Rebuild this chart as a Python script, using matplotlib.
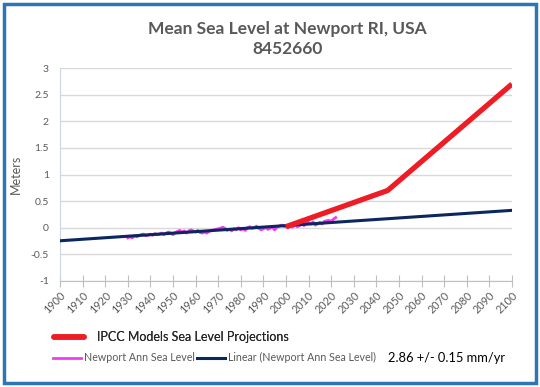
import numpy as np
import matplotlib.pyplot as plt
from matplotlib.lines import Line2D
from matplotlib.patches import Rectangle

plt.rcParams['font.family'] = ['Lato', 'DejaVu Sans']

# annual mean sea level at Newport (m)
years = np.arange(1930, 2023)
msl = [-0.19, -0.17, -0.19, -0.15, -0.17, -0.15, -0.13, -0.12, -0.15, -0.14,
       -0.12, -0.14, -0.11, -0.13, -0.12, -0.10, -0.13, -0.10, -0.08, -0.10,
       -0.13, -0.09, -0.07, -0.05, -0.08, -0.06, -0.10, -0.06, -0.04, -0.06,
       -0.08, -0.05, -0.09, -0.10, -0.08, -0.10, -0.07, -0.05, -0.04, -0.03,
       -0.02, -0.01, 0.01, -0.01, -0.05, -0.03, -0.06, -0.02, -0.04, -0.00,
       -0.04, -0.02, -0.05, 0.00, 0.02, -0.01, 0.00, 0.03, -0.01, -0.04,
       -0.02, 0.01, -0.03, -0.01, 0.01, -0.04, 0.01, 0.03, 0.05, 0.03,
       0.02, 0.00, 0.03, 0.01, 0.06, 0.02, 0.04, 0.07, 0.04, 0.09,
       0.10, 0.07, 0.11, 0.05, 0.07, 0.10, 0.07, 0.12, 0.13, 0.14,
       0.12, 0.16, 0.19]

# linear trend (2.86 mm/yr)
trend_years = [1900, 2100]
trend_vals = [-0.245, 0.327]

# IPCC projection
ipcc_years = [2000, 2045, 2100]
ipcc_vals = [0.02, 0.70, 2.70]

grey = '#595959'

fig = plt.figure(figsize=(5.4, 3.87), dpi=100)
ax = fig.add_axes([0.111, 0.274, 0.837, 0.55])

ax.plot(years, msl, color='#F03CF0', lw=2, zorder=2)
ax.plot(trend_years, trend_vals, color='#0C2660', lw=2.2, zorder=3)
ax.plot(ipcc_years, ipcc_vals, color='#EE1C25', lw=3.8, zorder=4,
        solid_capstyle='butt')

ax.set_xlim(1900, 2100)
ax.set_ylim(-1, 3)
ax.set_xticks(np.arange(1900, 2101, 10))
ax.set_yticks(np.arange(-1, 3.01, 0.5))
ax.set_yticklabels(['-1', '-0.5', '0', '0.5', '1', '1.5', '2', '2.5', '3'])
ax.grid(axis='y', color='#D9D9D9', lw=1)
ax.set_axisbelow(True)
for s in ['top', 'right']:
    ax.spines[s].set_visible(False)
ax.spines['left'].set_color('#C9D6E8')
ax.spines['bottom'].set_color('#BFBFBF')
ax.tick_params(axis='y', length=0, labelsize=7.5, labelcolor=grey, pad=8)
ax.tick_params(axis='x', direction='inout', length=8, color='#BFBFBF',
               labelsize=7.8, labelcolor=grey, labelrotation=45, pad=2)
for lbl in ax.get_xticklabels():
    lbl.set_ha('right')
    lbl.set_rotation_mode('anchor')
ax.set_ylabel('Meters', color=grey, fontsize=9, labelpad=6)

fig.text(0.532, 0.9, 'Mean Sea Level at Newport RI, USA\n8452660', ha='center',
         va='center', fontsize=12.5, fontweight='bold', color=grey, linespacing=1.3)

leg1 = fig.legend([Line2D([], [], color='#EE1C25', lw=4, solid_capstyle='round')],
                  ['IPCC Models Sea Level Projections'], loc='center left',
                  bbox_to_anchor=(0.08, 0.128), frameon=False, fontsize=9,
                  handlelength=2.4, handletextpad=1.0, labelcolor='#262626')
fig.add_artist(leg1)
fig.legend([Line2D([], [], color='#F03CF0', lw=2),
            Line2D([], [], color='#0C2660', lw=2.2)],
           ['Newport Ann Sea Level', 'Linear (Newport Ann Sea Level)'],
           loc='center left', bbox_to_anchor=(0.08, 0.075), ncol=2,
           frameon=False, fontsize=7.7, handlelength=2.6, handletextpad=0.3,
           columnspacing=0.2, labelcolor=grey)
fig.text(0.718, 0.075, '2.86 +/- 0.15 mm/yr', fontsize=9.3, color='black',
         va='center')

fig.patches.append(Rectangle((0.007, 0.01), 0.986, 0.98, transform=fig.transFigure,
                             fill=False, edgecolor='#2E75B6', lw=2.5))

fig.savefig('out.png', dpi=100)
